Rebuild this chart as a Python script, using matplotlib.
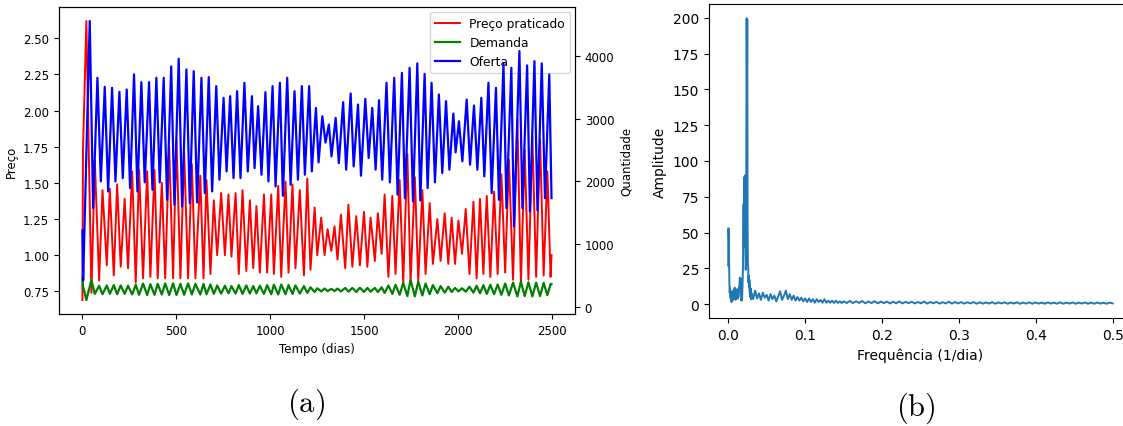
import numpy as np
import matplotlib
matplotlib.use("Agg")
import matplotlib.pyplot as plt

plt.rcParams["mathtext.fontset"] = "cm"

# ---------------------------------------------------------------------------
# Series (turning points of each curve; time in days)
# ---------------------------------------------------------------------------
t_preco = [0, 3, 21, 48, 66, 89, 107, 130, 146, 167, 185, 204, 225, 243, 265, 284,
           302, 323, 345, 362, 384, 401, 423, 441, 462, 483, 501, 522, 542, 563,
           583, 602, 628, 645, 661, 682, 700, 718, 739, 759, 778, 794, 816, 833,
           853, 873, 892, 910, 927, 945, 967, 984, 1006, 1020, 1043, 1059, 1082,
           1098, 1119, 1135, 1158, 1180, 1198, 1215, 1237, 1251, 1272, 1290, 1306,
           1326, 1343, 1359, 1377, 1400, 1417, 1438, 1459, 1478, 1500, 1518, 1535,
           1558, 1574, 1594, 1610, 1630, 1651, 1668, 1690, 1709, 1731, 1748, 1771,
           1789, 1811, 1828, 1850, 1867, 1891, 1908, 1930, 1949, 1967, 1985, 2003,
           2022, 2042, 2062, 2083, 2100, 2118, 2136, 2154, 2173, 2193, 2212, 2232,
           2252, 2272, 2294, 2317, 2336, 2356, 2376, 2397, 2417, 2438, 2457, 2477,
           2494, 2499]

preco = [0.69, 1.72, 2.62, 0.74, 1.66, 0.825, 1.45, 0.93, 1.46, 0.86, 1.49, 0.92,
         1.39, 0.91, 1.58, 0.81, 1.59, 0.84, 1.58, 0.85, 1.59, 0.84, 1.50, 0.84,
         1.75, 0.84, 1.80, 0.84, 1.71, 0.84, 1.63, 0.84, 1.55, 0.84, 1.52, 0.87,
         1.38, 1.00, 1.43, 1.00, 1.42, 0.99, 1.43, 0.87, 1.45, 0.89, 1.38, 0.91,
         1.34, 0.88, 1.42, 0.88, 1.42, 0.87, 1.48, 0.85, 1.51, 0.88, 1.49, 0.91,
         1.45, 0.86, 1.53, 0.90, 1.33, 1.00, 1.26, 1.00, 1.18, 1.03, 1.20, 0.97,
         1.28, 0.91, 1.35, 0.92, 1.27, 0.93, 1.30, 0.92, 1.26, 0.96, 1.29, 1.01,
         1.42, 0.85, 1.41, 0.87, 1.52, 0.81, 1.70, 0.81, 1.54, 0.82, 1.45, 0.87,
         1.36, 0.94, 1.25, 0.96, 1.29, 0.94, 1.26, 0.94, 1.24, 1.01, 1.32, 0.87,
         1.37, 0.84, 1.39, 0.87, 1.41, 0.85, 1.44, 0.87, 1.56, 0.88, 1.66, 0.83,
         1.94, 0.80, 1.73, 0.83, 1.82, 0.85, 1.80, 0.86, 1.58, 0.85, 1.00]

# demand turns at the same instants as the price (opposite phase)
demanda = [453, 330, 107, 427, 205, 335, 200, 340, 205, 345, 200, 340, 205, 335,
           195, 350, 190, 370, 187, 360, 190, 365, 195, 373, 187, 373, 187, 365,
           190, 373, 195, 365, 195, 365, 200, 355, 205, 340, 210, 335, 215, 330,
           210, 345, 205, 340, 210, 330, 215, 335, 205, 345, 200, 350, 195, 355,
           200, 345, 205, 340, 210, 330, 220, 310, 235, 295, 245, 290, 250, 285,
           250, 290, 245, 300, 240, 300, 235, 305, 235, 300, 240, 300, 235, 310,
           220, 340, 205, 350, 190, 380, 170, 427, 165, 400, 180, 370, 200, 345,
           215, 330, 225, 320, 235, 300, 245, 295, 240, 320, 225, 335, 215, 345,
           205, 350, 200, 355, 190, 370, 180, 385, 165, 400, 170, 390, 165, 385,
           170, 380, 185, 365, 360]

t_oferta = [0, 4, 39, 57, 80, 98, 119, 137, 158, 176, 197, 215, 236, 254, 275, 293,
            314, 332, 355, 373, 394, 412, 433, 451, 473, 490, 513, 531, 554, 572,
            593, 611, 634, 652, 673, 691, 713, 730, 752, 768, 787, 805, 824, 842,
            863, 881, 903, 917, 936, 954, 975, 991, 1013, 1029, 1052, 1068, 1091,
            1109, 1130, 1148, 1169, 1185, 1208, 1222, 1244, 1258, 1278, 1295, 1313,
            1327, 1349, 1366, 1389, 1405, 1429, 1445, 1468, 1484, 1507, 1525, 1544,
            1562, 1580, 1597, 1620, 1638, 1661, 1679, 1702, 1718, 1743, 1761, 1784,
            1800, 1823, 1839, 1860, 1878, 1899, 1917, 1937, 1955, 1976, 1988, 2006,
            2024, 2047, 2065, 2086, 2104, 2125, 2141, 2163, 2180, 2203, 2219, 2243,
            2259, 2285, 2299, 2328, 2344, 2369, 2384, 2408, 2424, 2447, 2464, 2487,
            2499]

oferta = [1220, 420, 4560, 1573, 3653, 2000, 3509, 1840, 3493, 2000, 3429, 2053,
          3467, 1893, 3707, 1840, 3584, 1984, 3584, 1867, 3653, 1984, 3653, 1707,
          3835, 1627, 3957, 1600, 3787, 1653, 3760, 1664, 3653, 1813, 3664, 1840,
          3520, 2027, 3333, 2160, 3360, 2053, 3440, 2053, 3573, 2160, 3360, 2213,
          3200, 2107, 3424, 2000, 3520, 1920, 3573, 1771, 3653, 1947, 3440, 2027,
          3520, 2107, 3520, 2160, 3173, 2304, 3040, 2620, 2907, 2400, 3013, 2293,
          3264, 2187, 3403, 2240, 3227, 2091, 3317, 2373, 3173, 2187, 3296, 2027,
          3573, 1984, 3653, 1787, 3733, 1733, 3813, 1680, 3883, 1696, 3717, 1893,
          3573, 1984, 3387, 2133, 3280, 2187, 3083, 2464, 2960, 2320, 3307, 2267,
          3211, 2187, 3333, 2080, 3573, 1813, 3493, 1707, 3883, 1573, 3813, 1280,
          4080, 1573, 3851, 1520, 3920, 1536, 3883, 1733, 3707, 1733]

# amplitude spectrum: detailed low-frequency part ...
freq_baixa = [0.0000, 0.0004, 0.0008, 0.0012, 0.0016, 0.0020, 0.0024, 0.0028,
              0.0032, 0.0036, 0.0040, 0.0044, 0.0048, 0.0052, 0.0056, 0.0060,
              0.0064, 0.0068, 0.0072, 0.0076, 0.0080, 0.0084, 0.0088, 0.0092,
              0.0096, 0.0100, 0.0104, 0.0108, 0.0112, 0.0116, 0.0120, 0.0124,
              0.0128, 0.0132, 0.0136, 0.0140, 0.0144, 0.0148, 0.0152, 0.0156,
              0.0160, 0.0164, 0.0168, 0.0172, 0.0176, 0.0180, 0.0184, 0.0188,
              0.0192, 0.0196, 0.0200, 0.0204, 0.0208, 0.0212, 0.0216, 0.0220,
              0.0224, 0.0228, 0.0232, 0.0236, 0.0240, 0.0244, 0.0248, 0.0252,
              0.0256, 0.0260, 0.0264, 0.0268, 0.0272, 0.0276, 0.0280, 0.0284,
              0.0288, 0.0292, 0.0296]
amp_baixa = [27, 53, 45, 30, 14, 8, 11, 6, 4, 9, 3, 1.5, 6, 4, 9, 5, 3, 8, 5, 10,
             6, 11.5, 4, 7, 3, 8, 5, 9, 4, 10.5, 6, 4, 8, 5, 7, 12, 9, 15, 18.5,
             16, 18, 10, 5, 2.5, 4, 3, 9, 18, 25, 45, 70, 40, 72, 89, 60, 90, 35,
             24, 30, 120, 199.6, 150, 199, 60, 28, 26, 15, 20, 12, 17, 8, 13, 5,
             11, 3.5]

# ... intermediate band (0.030 to 0.150) ...
amp_media = [8.5, 3.5, 9.5, 4.0, 7.5, 3.0, 8.0, 4.5, 6.5, 2.5, 7.0, 3.5, 6.0, 2.0,
             5.5, 9.0, 3.0, 6.0, 9.5, 3.5, 7.0, 3.0, 6.0, 2.5, 5.0, 2.5, 4.5, 2.0,
             4.0, 1.5, 4.0, 1.5, 3.5, 1.0, 3.5, 1.5, 3.0, 1.0, 3.5, 1.0, 2.5, 1.0,
             2.5, 0.8, 2.5, 0.8, 2.0, 0.8, 2.0]

# ... and the flat tail (0.154 to 0.4996)
amp_cauda = [0.8, 2.3, 0.7, 2.0, 0.9, 2.2, 0.6, 1.9, 0.8, 2.1, 0.6, 1.8,
             0.7, 1.8, 0.5, 1.7, 0.6, 1.9, 0.5, 1.6, 0.7, 1.7, 0.5, 1.5, 0.6,
             1.8, 0.4, 1.5, 0.6, 1.6, 0.4, 1.4, 0.5, 1.7, 0.4, 1.5, 0.5,
             1.4, 0.4, 1.3, 0.5, 1.5, 0.3, 1.3, 0.4, 1.2, 0.4, 1.4, 0.3, 1.2,
             0.5, 1.3, 0.3, 1.2, 0.4, 1.3, 0.3, 1.1, 0.4, 1.3, 0.3, 1.2, 0.4,
             1.1, 0.3, 1.2, 0.4, 1.1, 0.3, 1.3, 0.3, 1.1, 0.4, 1.2, 0.3, 1.1,
             0.4, 1.2, 0.3, 1.1, 0.3, 1.2, 0.4, 1.0, 0.3, 1.1, 0.5]

freq = np.concatenate([freq_baixa,
                       np.linspace(0.030, 0.150, len(amp_media)),
                       np.linspace(0.154, 0.4996, len(amp_cauda))])
amp = np.concatenate([amp_baixa, amp_media, amp_cauda])

# ---------------------------------------------------------------------------
# Figure
# ---------------------------------------------------------------------------
fig = plt.figure(figsize=(11.23, 4.27), dpi=100)

# (a) price / demand / supply
ax = fig.add_axes([0.0525, 0.2623, 0.4595, 0.7189])
ax2 = ax.twinx()

l_preco, = ax.plot(t_preco, preco, color="r", lw=1.4, label="Preço praticado")
l_demanda, = ax2.plot(t_preco, demanda, color="g", lw=1.6, label="Demanda")
l_oferta, = ax2.plot(t_oferta, oferta, color="b", lw=1.6, label="Oferta")

fs_a = 8.5
ax.set_xlabel("Tempo (dias)", fontsize=fs_a)
ax.set_ylabel("Preço", fontsize=fs_a)
ax2.set_ylabel("Quantidade", fontsize=fs_a)
ax.tick_params(labelsize=fs_a)
ax2.tick_params(labelsize=fs_a)
ax.legend([l_preco, l_demanda, l_oferta],
          ["Preço praticado", "Demanda", "Oferta"],
          loc="upper right", fontsize=8.8, borderaxespad=0.4)

# (b) amplitude spectrum
bx = fig.add_axes([0.6313, 0.2529, 0.3767, 0.7354])
bx.plot(freq, amp, color="tab:blue", lw=1.4)
bx.set_xlabel("Frequência (1/dia)", fontsize=10)
bx.set_ylabel("Amplitude", fontsize=10)
bx.tick_params(labelsize=10)

fig.text(306 / 1123, 1 - 404 / 427, r"$\mathrm{(a)}$", fontsize=22,
         ha="center", va="center")
fig.text(916 / 1123, 1 - 408 / 427, r"$\mathrm{(b)}$", fontsize=22,
         ha="center", va="center")

fig.savefig("out.png", dpi=100)
